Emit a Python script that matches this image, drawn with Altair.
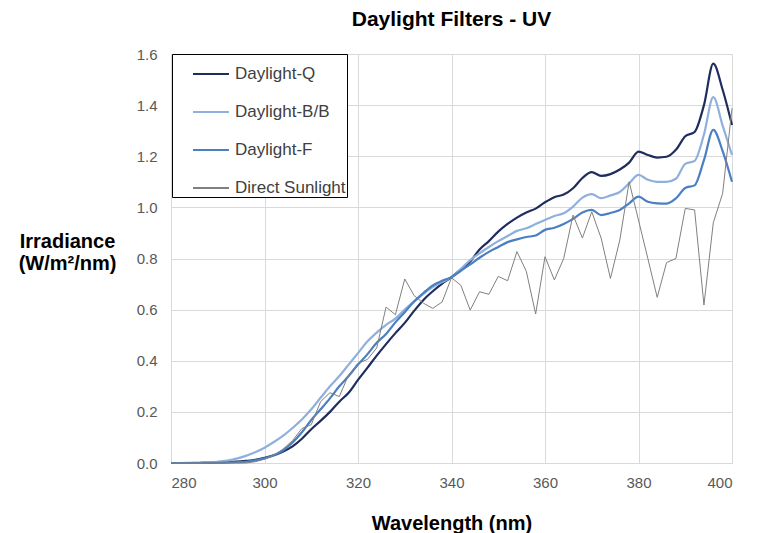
import altair as alt
import pandas as pd

wavelength = list(range(280, 401, 2))

daylight_q = [0, 0, 0, 0, 0.001, 0.002, 0.003, 0.005, 0.008, 0.012,
              0.02, 0.03, 0.045, 0.065, 0.095, 0.132, 0.165, 0.2, 0.24, 0.275,
              0.325, 0.372, 0.42, 0.465, 0.508, 0.548, 0.595, 0.638, 0.672, 0.702,
              0.727, 0.757, 0.788, 0.835, 0.868, 0.905, 0.935, 0.96, 0.98, 0.995,
              1.02, 1.04, 1.05, 1.075, 1.115, 1.138, 1.123, 1.13, 1.148, 1.175,
              1.218, 1.205, 1.195, 1.198, 1.225, 1.278, 1.295, 1.40, 1.562, 1.46,
              1.322]

daylight_bb = [0, 0, 0.001, 0.002, 0.003, 0.005, 0.009, 0.017, 0.028, 0.042,
               0.06, 0.082, 0.107, 0.137, 0.17, 0.21, 0.255, 0.3, 0.34, 0.385,
               0.43, 0.475, 0.51, 0.54, 0.565, 0.6, 0.632, 0.662, 0.688, 0.708,
               0.727, 0.76, 0.794, 0.82, 0.845, 0.868, 0.888, 0.908, 0.918, 0.935,
               0.951, 0.966, 0.977, 1.003, 1.038, 1.052, 1.036, 1.047, 1.06, 1.094,
               1.127, 1.108, 1.1, 1.1, 1.112, 1.17, 1.182, 1.285, 1.431, 1.32,
               1.205]

daylight_f = [0, 0, 0, 0, 0.001, 0.001, 0.002, 0.003, 0.005, 0.01,
              0.018, 0.03, 0.05, 0.08, 0.12, 0.168, 0.21, 0.253, 0.3, 0.34,
              0.385, 0.425, 0.47, 0.505, 0.55, 0.59, 0.632, 0.665, 0.695, 0.713,
              0.727, 0.752, 0.777, 0.803, 0.826, 0.845, 0.864, 0.875, 0.884, 0.89,
              0.912, 0.92, 0.935, 0.955, 0.98, 0.99, 0.97, 0.978, 0.99, 1.016,
              1.042, 1.022, 1.016, 1.015, 1.035, 1.076, 1.086, 1.185, 1.303, 1.22,
              1.10]

direct_sunlight = [0, 0, 0, 0, 0, 0, 0, 0, 0, 0.005,
                   0.015, 0.03, 0.055, 0.088, 0.135, 0.15, 0.24, 0.275, 0.26, 0.345,
                   0.39, 0.405, 0.45, 0.61, 0.58, 0.72, 0.655, 0.625, 0.605, 0.63,
                   0.725, 0.695, 0.598, 0.67, 0.66, 0.73, 0.713, 0.827, 0.75, 0.583,
                   0.807, 0.716, 0.80, 0.97, 0.88, 0.983, 0.88, 0.722, 0.872, 1.10,
                   0.95, 0.80, 0.648, 0.784, 0.80, 0.996, 0.99, 0.618, 0.94, 1.055,
                   1.388]

series_names = ["Daylight-Q", "Daylight-B/B", "Daylight-F", "Direct Sunlight"]
series_colors = ["#1f2d5e", "#8fb0dc", "#4a7fc1", "#808080"]
x_ticks = [280, 300, 320, 340, 360, 380, 400]
y_ticks = [0, 0.2, 0.4, 0.6, 0.8, 1.0, 1.2, 1.4, 1.6]

rows = []
for name, vals in zip(series_names, [daylight_q, daylight_bb, daylight_f, direct_sunlight]):
    for w, v in zip(wavelength, vals):
        rows.append({"wavelength": w, "irradiance": v, "series": name})
df = pd.DataFrame(rows)

FONT = "Liberation Sans"

color = alt.Color(
    "series:N",
    scale=alt.Scale(domain=series_names, range=series_colors),
    sort=series_names,
    legend=alt.Legend(
        title=None,
        orient="none",
        legendX=1,
        legendY=0,
        fillColor="white",
        strokeColor="black",
        padding=1,
        symbolOffset=19,
        symbolType="stroke",
        symbolSize=1296,
        symbolStrokeWidth=2,
        labelFontSize=17,
        labelColor="#404040",
        labelFont=FONT,
        labelOffset=5,
        rowPadding=11,
    ),
)

x = alt.X(
    "wavelength:Q",
    scale=alt.Scale(domain=[280, 400], nice=False),
    axis=alt.Axis(
        values=x_ticks,
        title="Wavelength (nm)",
        titleFontSize=20,
        titleFont=FONT,
        titleFontWeight="bold",
        titleColor="black",
        titlePadding=23,
        labelFontSize=15,
        labelColor="#595959",
        labelFont=FONT,
        labelPadding=12,
        ticks=False,
        domainColor="#d9d9d9",
        gridColor="#d9d9d9",
        format="d",
    ),
)
y = alt.Y(
    "irradiance:Q",
    scale=alt.Scale(domain=[0, 1.6], nice=False),
    axis=alt.Axis(
        values=y_ticks,
        title=["Irradiance", "(W/m²/nm)"],
        titleAngle=0,
        titleAlign="center",
        titleBaseline="middle",
        titleX=-104,
        titleY=187,
        titleFontSize=20,
        titleFont=FONT,
        titleFontWeight="bold",
        titleColor="black",
        labelFontSize=15,
        labelColor="#595959",
        labelFont=FONT,
        labelPadding=14,
        ticks=False,
        domain=False,
        gridColor="#d9d9d9",
        format=".1f",
    ),
)

blue = alt.Chart(df).transform_filter(
    alt.datum.series != "Direct Sunlight"
).mark_line(strokeWidth=2.2, interpolate="monotone").encode(x=x, y=y, color=color)

sun = alt.Chart(df).transform_filter(
    alt.datum.series == "Direct Sunlight"
).mark_line(strokeWidth=1).encode(x=x, y=y, color=color)

chart = alt.layer(blue, sun).properties(
    width=561,
    height=409,
    autosize=alt.AutoSizeParams(type="none"),
    padding={"left": 171, "top": 54, "right": 28, "bottom": 70},
    title=alt.TitleParams(
        "Daylight Filters - UV",
        fontSize=21,
        font=FONT,
        fontWeight="bold",
        color="black",
        anchor="middle",
        offset=17,
    ),
).configure_view(stroke=None).configure(background="white")

chart.save("out.html", embed_options={"renderer": "svg", "actions": False})
